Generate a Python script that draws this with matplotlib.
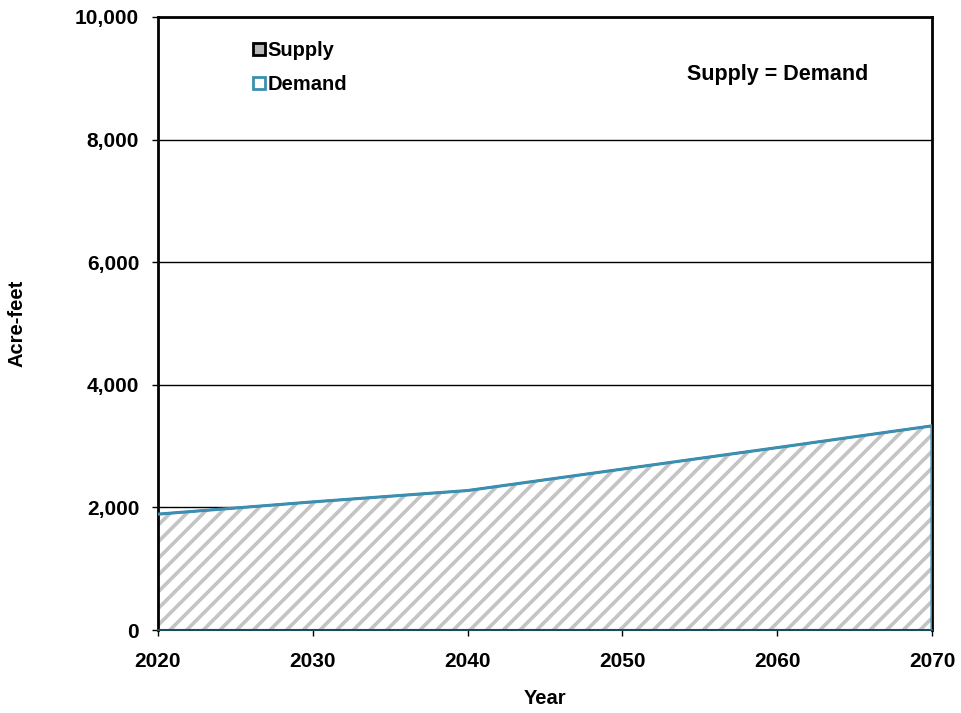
import numpy as np
import matplotlib.pyplot as plt
from matplotlib.lines import Line2D

plt.rcParams['font.family'] = ['Liberation Sans', 'DejaVu Sans']
plt.rcParams['font.weight'] = 'bold'
plt.rcParams['hatch.linewidth'] = 2.6
plt.rcParams['hatch.color'] = '#c4c4c4'

years = [2020, 2030, 2040, 2050, 2060, 2070]
supply = [1890, 2090, 2275, 2625, 2975, 3330]
demand = [1890, 2090, 2275, 2625, 2975, 3330]

BLUE = '#3b8fb0'
FS = 15

fig = plt.figure(figsize=(9.61, 7.13), dpi=100)
ax = fig.add_axes([0.1644, 0.1164, 0.8054, 0.8598])

# gridlines behind everything
ax.set_axisbelow(True)
ax.yaxis.grid(True, color='black', lw=1.0)

# supply area, hatched grey
ax.fill_between(years, 0, supply, facecolor='white', hatch='//',
                edgecolor='#c4c4c4', linewidth=0, zorder=2)
ax.plot(years, supply, color='#333333', lw=1.5, zorder=3)

# demand drawn as an outline on top
ax.plot(years + [years[-1]], demand + [0], color=BLUE, lw=2.2, zorder=4,
        solid_joinstyle='miter')

ax.set_xlim(2020, 2070)
ax.set_ylim(0, 10000)
ax.set_xticks(np.arange(2020, 2071, 10))
ax.set_yticks(np.arange(0, 10001, 2000))
ax.yaxis.set_major_formatter(plt.FuncFormatter(lambda v, p: f'{int(v):,}'))

for s in ['left', 'top', 'right']:
    ax.spines[s].set_linewidth(2.0)
ax.spines['bottom'].set_linewidth(1.5)
ax.spines['bottom'].set_color('#1d4a5a')
ax.tick_params(axis='both', direction='out', length=4.5, width=1.0,
               labelsize=FS, pad=9)
ax.tick_params(axis='x', pad=11)

ax.set_xlabel('Year', fontsize=FS - 0.5, fontweight='bold')
ax.xaxis.set_label_coords(0.5, -0.097)
ax.set_ylabel('Acre-feet', fontsize=FS - 0.5, fontweight='bold')
ax.yaxis.set_label_coords(-0.17, 0.5)

handles = [
    Line2D([], [], ls='none', marker='s', markersize=8, markerfacecolor='#b8b8b8',
           markeredgecolor='black', markeredgewidth=2.0),
    Line2D([], [], ls='none', marker='s', markersize=8, markerfacecolor='white',
           markeredgecolor=BLUE, markeredgewidth=2.0),
]
ax.legend(handles, ['Supply', 'Demand'], loc='upper left',
          bbox_to_anchor=(0.099, 0.99), frameon=False, handlelength=0.6,
          handletextpad=0.12, labelspacing=0.75,
          prop={'weight': 'bold', 'size': FS - 0.5})

ax.text(0.80, 0.906, 'Supply = Demand', transform=ax.transAxes, ha='center',
        va='center', fontsize=FS + 0.5, fontweight='bold')

fig.savefig('out.png', dpi=100)
